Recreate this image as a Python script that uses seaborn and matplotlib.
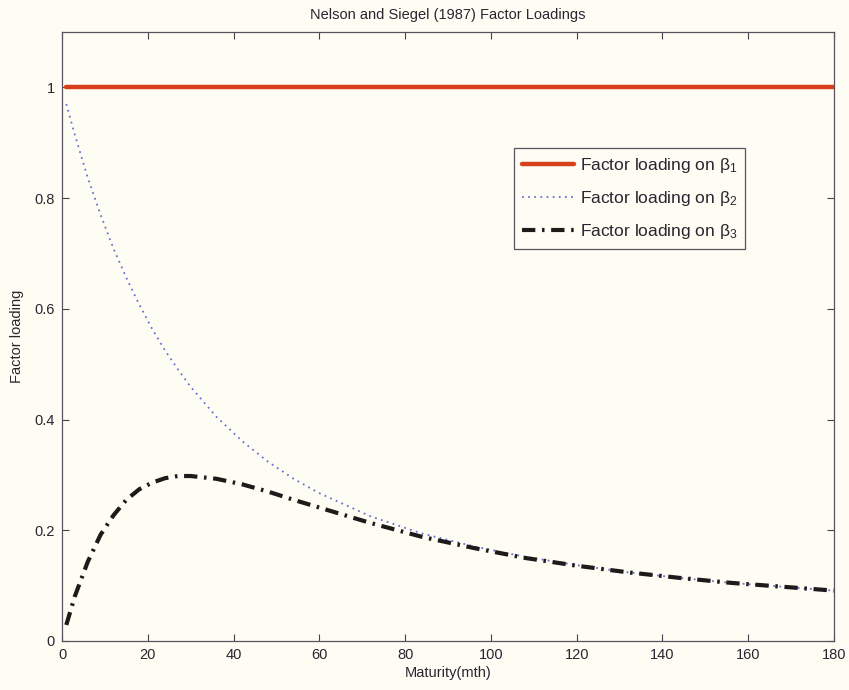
import numpy as np
import pandas as pd
import matplotlib
matplotlib.use("Agg")
import matplotlib.pyplot as plt
import seaborn as sns

# Maturities (months) and the three Nelson-Siegel factor loadings
maturity = [1, 3, 6, 9, 12, 15, 18, 21, 24, 27, 30, 36, 42, 48, 54, 60,
            72, 84, 96, 108, 120, 132, 144, 156, 168, 180]
level = [1.0] * len(maturity)
slope = [0.970, 0.914, 0.837, 0.770, 0.709, 0.656, 0.608, 0.564, 0.525, 0.491,
         0.459, 0.405, 0.361, 0.324, 0.293, 0.267, 0.225, 0.194, 0.171, 0.152,
         0.137, 0.124, 0.114, 0.105, 0.098, 0.091]
curvature = [0.029, 0.081, 0.143, 0.192, 0.227, 0.255, 0.274, 0.286, 0.294, 0.298,
             0.298, 0.293, 0.283, 0.270, 0.255, 0.241, 0.213, 0.188, 0.168, 0.150,
             0.136, 0.124, 0.114, 0.105, 0.098, 0.091]
labels = [r"Factor loading on $\beta_1$", r"Factor loading on $\beta_2$",
          r"Factor loading on $\beta_3$"]
x_ticks = [0, 20, 40, 60, 80, 100, 120, 140, 160, 180]
y_ticks = [0, 0.2, 0.4, 0.6, 0.8, 1]

df = pd.DataFrame({"Maturity": maturity, "b1": level, "b2": slope, "b3": curvature})

sns.set_style("ticks")
plt.rcParams["font.family"] = ["Liberation Sans", "DejaVu Sans"]
plt.rcParams["mathtext.fontset"] = "custom"
plt.rcParams["mathtext.rm"] = "Liberation Sans"
plt.rcParams["mathtext.it"] = "Liberation Sans"

bg = "#fdfdf4"
ink = "#2a2530"
fig = plt.figure(figsize=(8.49, 6.90), dpi=100, facecolor=bg)
ax = fig.add_axes([62 / 849, 49 / 690, 772 / 849, 609 / 690])
ax.set_facecolor(bg)

sns.lineplot(data=df, x="Maturity", y="b1", ax=ax, color="#d8401c", lw=3.2,
             label=labels[0])
sns.lineplot(data=df, x="Maturity", y="b2", ax=ax, color="#6d6ed2", lw=1.3,
             linestyle=(0, (1, 2.4)), label=labels[1])
sns.lineplot(data=df, x="Maturity", y="b3", ax=ax, color="#1e1a1a", lw=3.0,
             linestyle=(0, (3.2, 1.6, 0.6, 1.6)), label=labels[2])

ax.set_xlim(0, 180)
ax.set_ylim(0, 1.1)
ax.set_xticks(x_ticks)
ax.set_yticks(y_ticks)
ax.set_yticklabels(["0", "0.2", "0.4", "0.6", "0.8", "1"])
ax.tick_params(direction="in", top=True, right=True, length=5, width=0.8,
               colors="#4a4050", labelsize=10.5, labelcolor=ink, pad=5)
for s in ax.spines.values():
    s.set_color("#5a5060")
    s.set_linewidth(0.9)

ax.set_xlabel("Maturity(mth)", fontsize=10.5, color=ink, labelpad=3)
ax.set_ylabel("Factor loading", fontsize=10.5, color=ink, labelpad=8)
ax.set_title("Nelson and Siegel (1987) Factor Loadings", fontsize=10.5,
             color=ink, pad=9)

leg = ax.legend(loc="upper left", bbox_to_anchor=(452 / 772, 1 - 116 / 609),
                fontsize=12.5, frameon=True, fancybox=False, handlelength=3.0,
                borderpad=0.45, labelspacing=0.82, handletextpad=0.35,
                borderaxespad=0)
leg.get_frame().set_edgecolor("#5a5060")
leg.get_frame().set_linewidth(0.9)
leg.get_frame().set_facecolor(bg)
leg.get_frame().set_alpha(1)
for t in leg.get_texts():
    t.set_color(ink)

fig.savefig("out.png", dpi=100, facecolor=bg)
